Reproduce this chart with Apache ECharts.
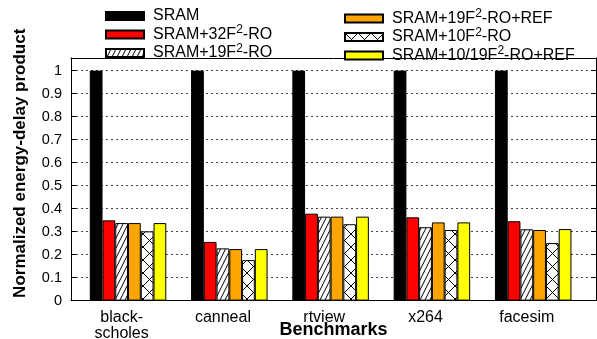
<!DOCTYPE html>
<html>
<head>
<meta charset="utf-8">
<script src="https://cdn.jsdelivr.net/npm/echarts@6/dist/echarts.min.js"></script>
<style>html,body{margin:0;padding:0;background:#fff;}#c{width:597px;height:339px;}</style>
</head>
<body>
<div id="c"></div>
<script>
const benchmarks = ['black-\nscholes', 'canneal', 'rtview', 'x264', 'facesim'];
const sram      = [1, 1, 1, 1, 1];
const ro32      = [0.349, 0.255, 0.378, 0.362, 0.345];
const ro19      = [0.337, 0.227, 0.365, 0.319, 0.310];
const ro19ref   = [0.337, 0.224, 0.365, 0.340, 0.307];
const ro10      = [0.301, 0.176, 0.332, 0.307, 0.250];
const ro1019ref = [0.337, 0.224, 0.365, 0.340, 0.311];
const seriesNames = ['SRAM', 'SRAM+32F²-RO', 'SRAM+19F²-RO', 'SRAM+19F²-RO+REF', 'SRAM+10F²-RO', 'SRAM+10/19F²-RO+REF'];

const FONT = 'Liberation Sans, Arial, Helvetica, sans-serif';

function hatchCanvas() {
  const c = document.createElement('canvas'); c.width = 5; c.height = 10;
  const g = c.getContext('2d');
  g.fillStyle = '#fff'; g.fillRect(0, 0, 5, 10);
  g.strokeStyle = '#000'; g.lineWidth = 1;
  for (const dx of [-5, 0, 5]) { g.beginPath(); g.moveTo(dx, 10); g.lineTo(dx + 5, 0); g.stroke(); }
  return c;
}
function crossCanvas() {
  const c = document.createElement('canvas'); c.width = 13; c.height = 13;
  const g = c.getContext('2d');
  g.fillStyle = '#fff'; g.fillRect(0, 0, 13, 13);
  g.strokeStyle = '#000'; g.lineWidth = 1;
  g.beginPath(); g.moveTo(0, 0); g.lineTo(13, 13); g.stroke();
  g.beginPath(); g.moveTo(0, 13); g.lineTo(13, 0); g.stroke();
  return c;
}

const toPts = arr => arr.map((v, i) => [i, v]);
const BW = 12.75;
const border = { borderColor: '#000', borderWidth: 1 };

const seriesDefs = [
  { name: seriesNames[0], data: sram, itemStyle: { color: '#000', borderColor: '#000', borderWidth: 1 } },
  { name: seriesNames[1], data: ro32, itemStyle: Object.assign({ color: '#ff0000' }, border) },
  { name: seriesNames[2], data: ro19, itemStyle: Object.assign({ color: { image: hatchCanvas(), repeat: 'repeat' } }, border) },
  { name: seriesNames[3], data: ro19ref, itemStyle: Object.assign({ color: '#ffa500' }, border) },
  { name: seriesNames[4], data: ro10, itemStyle: Object.assign({ color: { image: crossCanvas(), repeat: 'repeat' } }, border) },
  { name: seriesNames[5], data: ro1019ref, itemStyle: Object.assign({ color: '#ffff00' }, border) }
];

const series = [{
  name: '_pad', type: 'bar', barWidth: BW, barGap: '0%', silent: true,
  data: benchmarks.map((_, i) => [i, null]),
  itemStyle: { color: 'rgba(0,0,0,0)', borderWidth: 0 }
}].concat(seriesDefs.map(s => ({
  name: s.name, type: 'bar', barWidth: BW, barGap: '0%',
  data: toPts(s.data), itemStyle: s.itemStyle, emphasis: { disabled: true }
})));

const legendCommon = {
  orient: 'vertical', top: 8, padding: 0, itemGap: 0,
  itemWidth: 38, itemHeight: 8, icon: 'rect',
  formatter: n => n.replace('²', '{s|2}'),
  textStyle: {
    fontFamily: FONT, fontSize: 16, color: '#000', lineHeight: 16, padding: [0, 0, 0, 4],
    rich: { s: { fontFamily: FONT, fontSize: 12, color: '#000', padding: [0, 0, 9, 0] } }
  }
};

const lineBlack = { show: true, onZero: false, lineStyle: { color: '#000', width: 1 } };
const XMIN = -0.5, XMAX = 4.683;
const option = {
  animation: false,
  grid: { left: 71, top: 57.95, right: 1, bottom: 38.4, containLabel: false, outerBoundsMode: 'none' },
  legend: [
    Object.assign({ left: 105, data: seriesNames.slice(0, 3) }, legendCommon),
    Object.assign({ left: 344, data: seriesNames.slice(3) }, legendCommon)
  ],
  xAxis: [{
    type: 'value', min: XMIN, max: XMAX, position: 'bottom',
    name: 'Benchmarks', nameLocation: 'middle', nameGap: 20, nameMoveOverlap: false,
    nameTextStyle: { fontFamily: FONT, fontSize: 18, fontWeight: 'bold', color: '#000' },
    axisLine: lineBlack,
    axisTick: { show: false },
    splitLine: { show: false },
    axisLabel: {
      customValues: benchmarks.map((_, i) => i),
      formatter: v => benchmarks[Math.round(v)] || '',
      fontFamily: FONT, fontSize: 16, color: '#000', lineHeight: 16, margin: 9
    }
  }, {
    type: 'value', min: XMIN, max: XMAX, position: 'top',
    axisLine: lineBlack,
    axisTick: { show: false }, axisLabel: { show: false }, splitLine: { show: false }
  }],
  yAxis: [{
    type: 'value', min: 0, max: 1.055, interval: 0.1, position: 'left',
    name: 'Normalized energy-delay product', nameLocation: 'middle', nameGap: 42, nameMoveOverlap: false,
    nameTextStyle: { fontFamily: FONT, fontSize: 17, fontWeight: 'bold', color: '#000', padding: [0, 0, 0, 32] },
    axisLine: lineBlack,
    axisTick: { show: true, inside: true, length: 5, lineStyle: { color: '#000' } },
    axisLabel: { fontFamily: FONT, fontSize: 14.5, color: '#000', margin: 9, showMaxLabel: false },
    splitLine: { show: true, lineStyle: { color: '#444', width: 1, type: [2, 3] } }
  }, {
    type: 'value', min: 0, max: 1.055, interval: 0.1, position: 'right',
    axisLine: lineBlack,
    axisTick: { show: true, inside: true, length: 5, lineStyle: { color: '#000' } },
    axisLabel: { show: false }, splitLine: { show: false }
  }],
  series: series
};

const chart = echarts.init(document.getElementById('c'), null, { renderer: 'canvas' });
chart.setOption(option);
</script>
</body>
</html>
